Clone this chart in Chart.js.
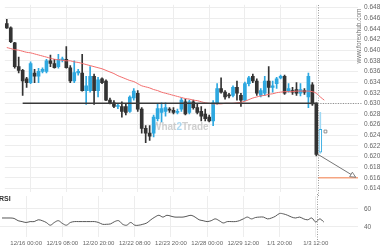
<!DOCTYPE html>
<html><head><meta charset="utf-8">
<script src="https://cdn.jsdelivr.net/npm/chart.js@4"></script>
<style>
html,body{margin:0;padding:0;background:#fff;overflow:hidden}
#wrap{position:relative;width:380px;height:250px;background:#fff}
canvas{position:absolute;left:0}
</style></head><body>
<div id="wrap">
<canvas id="price" width="380" height="197" style="top:0"></canvas>
<canvas id="rsi" width="380" height="56" style="top:194px"></canvas>
</div>
<script>
// ---- data ----
const CANDLE_OPEN = [
 .6450,.6442,.6414,.6369,.6362,.6346,.6339,.6357,.6351,.6360,
 .6360,.6380,.6375,.6369,.6382,.6383,.6367,.6342,.6357,.6357,
 .6324,.6324,.6351,.6324,.6346,.6342,.6306,.6301,.6294,.6294,
 .6294,.6285,.6310,.6319,.6289,.6253,.6244,.6244,.6271,.6283,
 .6285,.6289,.6287,.6283,.6289,.6303,.6283,.6303,.6292,.6285,
 .6280,.6274,.6267,.6301,.6328,.6321,.6315,.6315,.6330,.6315,
 .6306,.6337,.6351,.6342,.6315,.6319,.6342,.6330,.6337,.6348,
 .6351,.6324,.6324,.6326,.6319,.6324,.6312,.6335,.6299,.6208];
const CANDLE_HIGH = [
 .6458,.6444,.6415,.6387,.6364,.6349,.6378,.6364,.6366,.6367,
 .6383,.6391,.6383,.6392,.6387,.6407,.6371,.6380,.6364,.6392,
 .6351,.6369,.6355,.6349,.6348,.6344,.6310,.6305,.6299,.6303,
 .6299,.6314,.6328,.6324,.6292,.6258,.6258,.6278,.6298,.6301,
 .6301,.6292,.6292,.6289,.6310,.6308,.6306,.6306,.6298,.6294,
 .6289,.6278,.6305,.6337,.6348,.6324,.6319,.6333,.6342,.6319,
 .6340,.6351,.6355,.6346,.6328,.6351,.6369,.6342,.6349,.6353,
 .6353,.6337,.6330,.6339,.6337,.6328,.6357,.6339,.6301,.6283];
const CANDLE_LOW = [
 .6441,.6414,.6366,.6357,.6315,.6330,.6337,.6339,.6339,.6357,
 .6357,.6369,.6366,.6366,.6378,.6366,.6339,.6339,.6353,.6323,
 .6298,.6321,.6298,.6312,.6337,.6305,.6299,.6292,.6290,.6274,
 .6278,.6283,.6306,.6285,.6244,.6226,.6230,.6237,.6267,.6265,
 .6276,.6283,.6280,.6280,.6285,.6278,.6280,.6289,.6280,.6267,
 .6267,.6265,.6258,.6298,.6319,.6308,.6310,.6312,.6306,.6294,
 .6305,.6333,.6339,.6315,.6312,.6315,.6312,.6321,.6328,.6346,
 .6317,.6321,.6317,.6315,.6314,.6317,.6292,.6296,.6201,.6206];
const CANDLE_CLOSE = [
 .6442,.6416,.6369,.6362,.6342,.6339,.6375,.6351,.6360,.6364,
 .6380,.6375,.6367,.6383,.6383,.6367,.6342,.6358,.6360,.6324,
 .6333,.6351,.6324,.6344,.6339,.6306,.6301,.6294,.6296,.6285,
 .6283,.6312,.6323,.6289,.6253,.6244,.6238,.6274,.6290,.6290,
 .6292,.6287,.6283,.6285,.6306,.6280,.6303,.6292,.6283,.6276,
 .6271,.6267,.6301,.6328,.6321,.6312,.6314,.6330,.6319,.6306,
 .6337,.6348,.6342,.6319,.6324,.6342,.6330,.6333,.6346,.6351,
 .6319,.6328,.6321,.6319,.6326,.6321,.6351,.6299,.6204,.6251];
const FORMING_CANDLE = 79;
const MA_VALUES = [
 .6405,.6403,.6401,.6400,.6398,.6396,.6395,.6393,.6391,.6389,
 .6387,.6385,.6383,.6382,.6381,.6380,.6380,.6378,.6377,.6375,
 .6373,.6371,.6369,.6367,.6365,.6362,.6359,.6356,.6352,.6349,
 .6346,.6343,.6341,.6337,.6333,.6331,.6329,.6326,.6324,.6321,
 .6319,.6317,.6315,.6313,.6311,.6309,.6308,.6306,.6305,.6303,
 .6301,.6300,.6299,.6299,.6299,.6300,.6300,.6300,.6301,.6302,
 .6304,.6307,.6310,.6312,.6314,.6315,.6317,.6318,.6320,.6321,
 .6322,.6322,.6322,.6323,.6323,.6323,.6323,.6322,.6319,.6312,
 .6306];
const RSI_VALUES = [
 50,50,50,49.5,47,46,45,46,46,48,
 47,45,42,45,47,44,42,45,46,46,
 46,46,46,46,45,43,43,43.5,46,47,
 43,42,45,42,42,43,44.5,48,51,53,
 51,53,52,51,51,51,52,53,51,48,
 47,46,47,49,47,44.5,46,46,46,47,
 49,51,49,50.5,51,51,49,50,52,55,
 54.5,53,51,50,51,49,48,50,45.5,49,
 45.5];
const TIME_TICK_INDEX = [6,15,24,33,42,51,60,69,78];
const TIME_TICK_LABELS = ['12/16 00:00','12/19 08:00','12/20 20:00','12/22 08:00','12/23 20:00','12/28 00:00','12/29 12:00','1/1 20:00','1/3 12:00'];
const PRICE_TICKS = [0.614,0.616,0.618,0.620,0.622,0.624,0.626,0.628,0.630,0.632,0.634,0.636,0.638,0.640,0.642,0.644,0.646,0.648];
const RSI_TICKS = [40, 60];
const LEVEL_PRICE = 0.630;
const LEVEL_FROM = 4;
const SIGNAL_X = 78.4;
const TARGET_PRICE = 0.616;
const ARROW_FROM = {x: 78.4, y: 0.6204};
const ARROW_TO = {x: 87.9, y: 0.6161};
const PRICE_MARKER = {x: 80.3, y: 0.6247};
const X_MIN = -0.5, X_MAX = 88.5;
const PRICE_MIN = 0.61328, PRICE_MAX = 0.64854;
const RSI_MIN = 28.9, RSI_MAX = 74.4;

// ---- styles ----
const BLUE = '#2ea8e0', DARK = '#333333', MA_RED = '#f26d6d', LEVEL_C = '#3a3a3a';
const TARGET_C = '#f5a582', GRID = '#ededed', LABEL_C = '#666666';
const FONT = "'Liberation Sans', Arial, sans-serif";
Chart.defaults.font.family = FONT;
Chart.defaults.animation = false;

const idx = CANDLE_OPEN.map((_, i) => i);
const up = idx.map(i => CANDLE_CLOSE[i] >= CANDLE_OPEN[i]);
const col = idx.map(i => up[i] ? BLUE : DARK);

const fixY = s => { s.width = 22; s.paddingTop = 0; s.paddingBottom = 0; };
const xTicks = s => { s.ticks = TIME_TICK_INDEX.map(v => ({value: v})); };

const vLine = {
  id: 'vline',
  afterDraw(chart, args, opts) {
    const {ctx, scales: {x}} = chart;
    const px = Math.round(x.getPixelForValue(SIGNAL_X)) + 0.5;
    ctx.save();
    ctx.strokeStyle = '#9a9a9a'; ctx.lineWidth = 1; ctx.setLineDash([1, 1.5]);
    ctx.beginPath(); ctx.moveTo(px, opts.top); ctx.lineTo(px, opts.bottom(chart)); ctx.stroke();
    ctx.restore();
  }
};

const priceDeco = {
  id: 'priceDeco',
  beforeDatasetsDraw(chart) {
    const {ctx, chartArea} = chart;
    ctx.save();
    ctx.font = "bold 10px " + FONT;
    ctx.textBaseline = 'middle';
    let tx = 152; const ty = 127;
    [['What', 'rgba(170,170,170,0.55)'], ['2', 'rgba(90,180,230,0.5)'], ['Trade', 'rgba(170,170,170,0.55)']].forEach(([t, c]) => {
      ctx.fillStyle = c; ctx.fillText(t, tx, ty); tx += ctx.measureText(t).width;
    });
    ctx.translate(chartArea.right + 1, 36);
    ctx.rotate(-Math.PI / 2);
    ctx.font = "6.5px " + FONT; ctx.fillStyle = '#777'; ctx.textAlign = 'center';
    ctx.fillText('www.forexhub.com', 0, 0);
    ctx.restore();
  },
  afterDatasetsDraw(chart) {
    const {ctx, chartArea, scales: {x, y}} = chart;
    ctx.save();
    // dotted continuation of the level
    const ly = Math.round(y.getPixelForValue(LEVEL_PRICE)) + 0.5;
    ctx.strokeStyle = '#888'; ctx.lineWidth = 1; ctx.setLineDash([1, 1.5]);
    ctx.beginPath(); ctx.moveTo(x.getPixelForValue(SIGNAL_X), ly); ctx.lineTo(chartArea.right + 4, ly); ctx.stroke();
    ctx.setLineDash([]);
    // arrow head
    const x1 = x.getPixelForValue(ARROW_FROM.x), y1 = y.getPixelForValue(ARROW_FROM.y);
    const x2 = x.getPixelForValue(ARROW_TO.x), y2 = y.getPixelForValue(ARROW_TO.y);
    const a = Math.atan2(y2 - y1, x2 - x1), L = 6, w = 0.45;
    ctx.strokeStyle = '#666'; ctx.fillStyle = '#fff'; ctx.lineWidth = 0.8;
    ctx.beginPath();
    ctx.moveTo(x2, y2);
    ctx.lineTo(x2 - L * Math.cos(a - w), y2 - L * Math.sin(a - w));
    ctx.lineTo(x2 - L * Math.cos(a + w), y2 - L * Math.sin(a + w));
    ctx.closePath(); ctx.fill(); ctx.stroke();
    ctx.restore();
  }
};

new Chart(document.getElementById('price'), {
  type: 'bar',
  data: {
    datasets: [
      { type: 'line', order: 1, data: [ARROW_FROM, ARROW_TO], borderColor: '#666', borderWidth: 0.9, pointRadius: 0, clip: false },
      { type: 'line', order: 1, data: [{x: SIGNAL_X, y: TARGET_PRICE}, {x: X_MAX, y: TARGET_PRICE}], borderColor: TARGET_C, borderWidth: 1.5, pointRadius: 0 },
      { type: 'line', order: 1, data: [{x: LEVEL_FROM, y: LEVEL_PRICE}, {x: SIGNAL_X, y: LEVEL_PRICE}], borderColor: LEVEL_C, borderWidth: 1.5, pointRadius: 0 },
      { type: 'line', order: 2, data: MA_VALUES.map((v, i) => ({x: i, y: v})), borderColor: MA_RED, borderWidth: 1, pointRadius: 0, tension: 0.3 },
      { type: 'scatter', order: 1, data: [PRICE_MARKER], pointStyle: 'rect', pointRadius: 2, backgroundColor: '#fff', borderColor: '#777', borderWidth: 0.8 },
      { order: 3, grouped: false, barThickness: 3, minBarLength: 1, borderSkipped: false,
        data: idx.map(i => ({x: i, y: [Math.min(CANDLE_OPEN[i], CANDLE_CLOSE[i]), Math.max(CANDLE_OPEN[i], CANDLE_CLOSE[i])]})),
        backgroundColor: idx.map(i => i === FORMING_CANDLE ? '#ffffff' : col[i]),
        borderColor: idx.map(i => col[i]),
        borderWidth: idx.map(i => i === FORMING_CANDLE ? 1 : 0) },
      { order: 4, grouped: false, barThickness: 1, borderSkipped: false,
        data: idx.map(i => ({x: i, y: [CANDLE_LOW[i], CANDLE_HIGH[i]]})),
        backgroundColor: idx.map(i => i === FORMING_CANDLE ? '#9fd8f3' : col[i]) }
    ]
  },
  options: {
    responsive: false, maintainAspectRatio: false,
    layout: { padding: 0 },
    plugins: { legend: { display: false }, tooltip: { enabled: false }, vline: { top: 5, bottom: c => c.height } },
    scales: {
      x: { type: 'linear', min: X_MIN, max: X_MAX, offset: false,
           grid: { color: GRID, offset: false, drawTicks: false }, border: { display: false },
           ticks: { display: false }, afterBuildTicks: xTicks,
           afterFit: s => { s.height = 0; s.paddingLeft = 0; s.paddingRight = 0; } },
      y: { position: 'right', min: PRICE_MIN, max: PRICE_MAX,
           grid: { color: GRID, drawTicks: false }, border: { display: false },
           afterBuildTicks: s => { s.ticks = PRICE_TICKS.map(v => ({value: v})); },
           ticks: { padding: 6, color: LABEL_C, font: { size: 6.5 }, callback: v => v.toFixed(3) },
           afterFit: fixY }
    }
  },
  plugins: [priceDeco, vLine]
});

const rsiDeco = {
  id: 'rsiDeco',
  afterDraw(chart) {
    const {ctx} = chart;
    ctx.save();
    ctx.font = "bold 7px " + FONT; ctx.fillStyle = '#333'; ctx.textBaseline = 'middle';
    ctx.fillText('RSI', -1, 5);
    ctx.restore();
  }
};

new Chart(document.getElementById('rsi'), {
  type: 'line',
  data: {
    datasets: [
      { data: RSI_VALUES.map((v, i) => ({x: i, y: v})), borderColor: '#444', borderWidth: 0.9, pointRadius: 0, tension: 0.35 }
    ]
  },
  options: {
    responsive: false, maintainAspectRatio: false,
    layout: { padding: { top: 2 } },
    plugins: { legend: { display: false }, tooltip: { enabled: false }, vline: { top: 0, bottom: c => c.chartArea.bottom + 3 } },
    scales: {
      x: { type: 'linear', min: X_MIN, max: X_MAX, offset: false,
           grid: { color: GRID, offset: false, drawTicks: false }, border: { display: false },
           afterBuildTicks: xTicks,
           ticks: { padding: 3, color: LABEL_C, font: { size: 6 }, maxRotation: 0, autoSkip: false,
                    callback: v => TIME_TICK_LABELS[TIME_TICK_INDEX.indexOf(v)] },
           afterFit: s => { s.height = 13; s.paddingLeft = 0; s.paddingRight = 0; } },
      y: { position: 'right', min: RSI_MIN, max: RSI_MAX,
           grid: { color: GRID, drawTicks: false }, border: { display: false },
           afterBuildTicks: s => { s.ticks = RSI_TICKS.map(v => ({value: v})); },
           ticks: { padding: 6, color: LABEL_C, font: { size: 6.5 } },
           afterFit: fixY }
    }
  },
  plugins: [rsiDeco, vLine]
});
</script>
</body></html>
